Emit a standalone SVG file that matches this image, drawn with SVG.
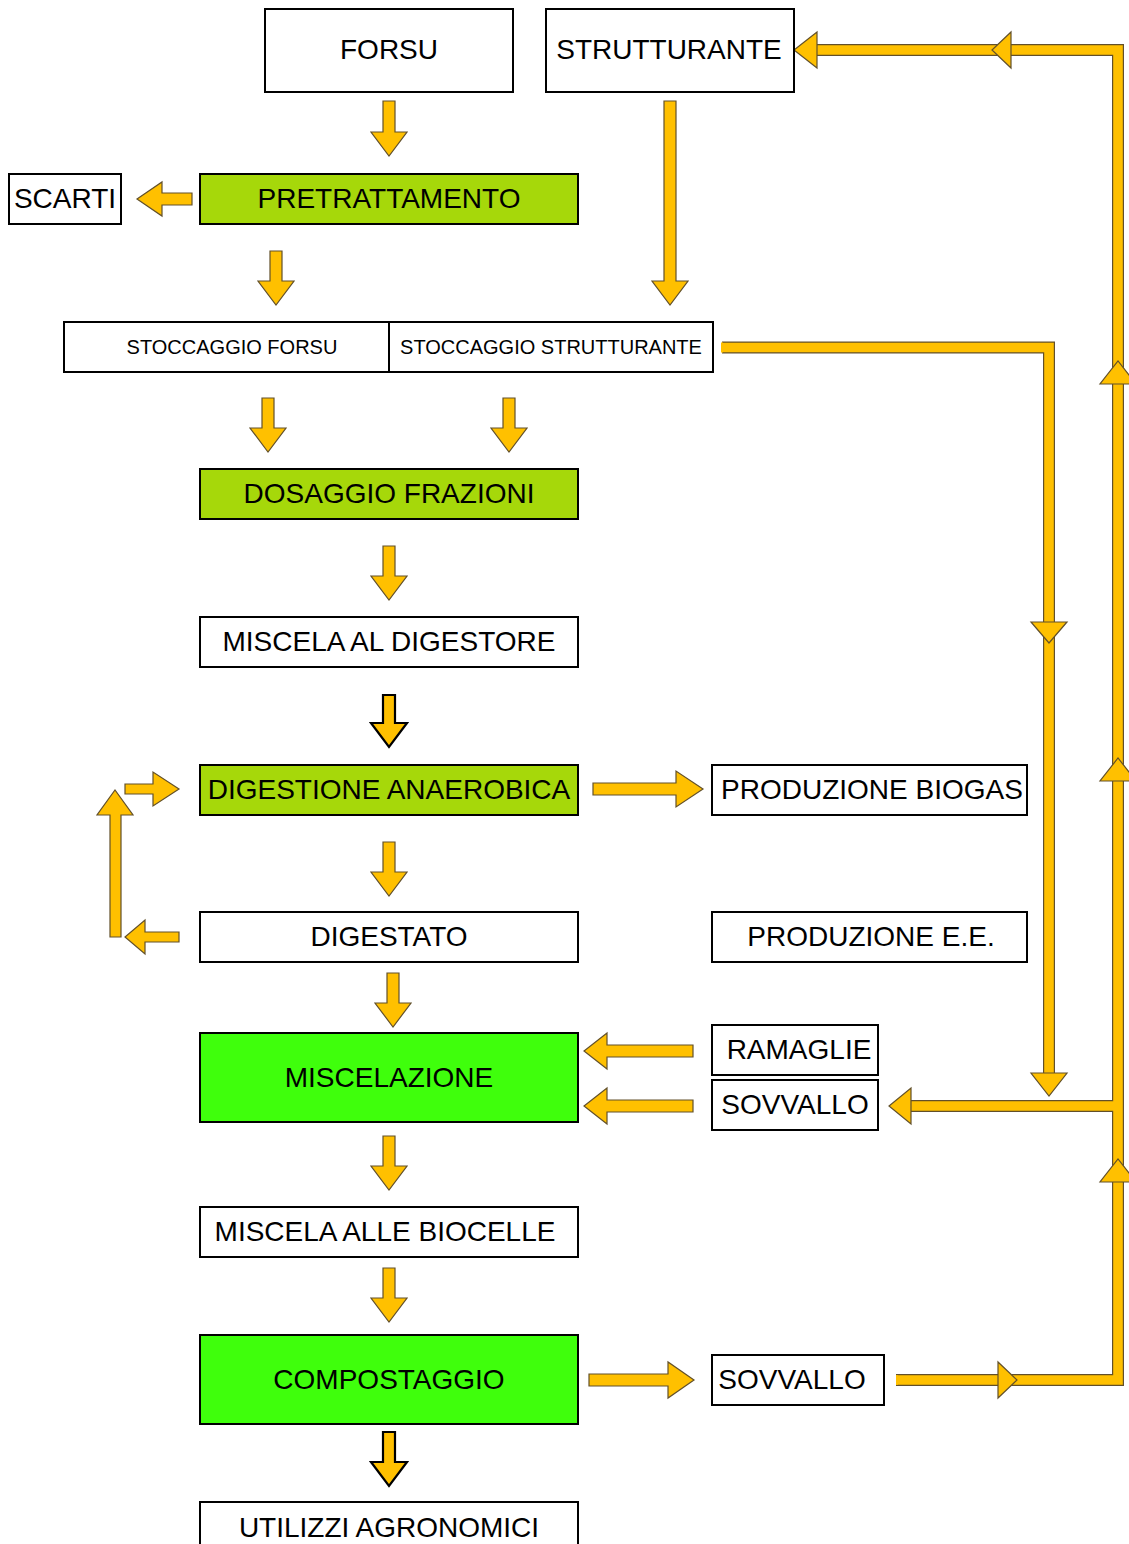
<svg xmlns="http://www.w3.org/2000/svg" width="1129" height="1544" viewBox="0 0 1129 1544">
<style>
.box{fill:#fff;stroke:#000;stroke-width:2}
.yg{fill:#A6D80A;stroke:#000;stroke-width:2}
.gr{fill:#3FFF0C;stroke:#000;stroke-width:2}
.t{font-family:"Liberation Sans",Arial,sans-serif;font-size:28px;fill:#000;text-anchor:middle}
.ts{font-family:"Liberation Sans",Arial,sans-serif;font-size:20px;fill:#000;text-anchor:middle}
.ar{fill:#FFC000;stroke:#62502A;stroke-width:1.2;stroke-linejoin:miter}
.arb{fill:#FFC000;stroke:#000;stroke-width:2.2;stroke-linejoin:miter}
.lo{fill:none;stroke:#62502A;stroke-width:12;stroke-linejoin:miter}
.li{fill:none;stroke:#FFC000;stroke-width:9.6;stroke-linejoin:miter}
</style>
<rect width="1129" height="1544" fill="#fff"/>

<g id="connectors">
  <!-- long lines on the right -->
  <path class="lo" d="M722,347.5 H1049 V1078"/>
  <path class="lo" d="M896,1380 H1118 V50 H812"/>
  <path class="lo" d="M908,1106 H1118"/>
  <path class="li" d="M722,347.5 H1049 V1078"/>
  <path class="li" d="M896,1380 H1118 V50 H812"/>
  <path class="li" d="M908,1106 H1118"/>
  <rect x="721" y="342.5" width="2" height="10" fill="#FFC000"/>
  <!-- heads on lines -->
  <polygon class="ar" points="1031,622 1067,622 1049,643"/>
  <polygon class="ar" points="1031,1073 1067,1073 1049,1096"/>
  <polygon class="ar" points="817,32 817,68 794,50"/>
  <polygon class="ar" points="1011,32 1011,68 992,50"/>
  <polygon class="ar" points="1100,384 1136,384 1118,361"/>
  <polygon class="ar" points="1100,781 1136,781 1118,758"/>
  <polygon class="ar" points="1100,1182 1136,1182 1118,1159"/>
  <polygon class="ar" points="998,1362 998,1398 1017,1380"/>
  <polygon class="ar" points="911,1088 911,1124 889,1106"/>
  <rect x="896" y="1375.2" width="2" height="9.6" fill="#FFC000"/>

  <!-- block down arrows -->
  <polygon class="ar" points="383,101 395,101 395,132 407,132 389,156 371,132 383,132"/>
  <polygon class="ar" points="664,101 676,101 676,281 688,281 670,305 652,281 664,281"/>
  <polygon class="ar" points="270,251 282,251 282,281 294,281 276,305 258,281 270,281"/>
  <polygon class="ar" points="262,398 274,398 274,428 286,428 268,452 250,428 262,428"/>
  <polygon class="ar" points="503,398 515,398 515,428 527,428 509,452 491,428 503,428"/>
  <polygon class="ar" points="383,546 395,546 395,576 407,576 389,600 371,576 383,576"/>
  <polygon class="arb" points="383,695 395,695 395,723 407,723 389,747 371,723 383,723"/>
  <polygon class="ar" points="383,842 395,842 395,872 407,872 389,896 371,872 383,872"/>
  <polygon class="ar" points="387,973 399,973 399,1003 411,1003 393,1027 375,1003 387,1003"/>
  <polygon class="ar" points="383,1136 395,1136 395,1166 407,1166 389,1190 371,1166 383,1166"/>
  <polygon class="ar" points="383,1268 395,1268 395,1298 407,1298 389,1322 371,1298 383,1298"/>
  <polygon class="arb" points="383,1432 395,1432 395,1462 407,1462 389,1486 371,1462 383,1462"/>

  <!-- left arrows -->
  <polygon class="ar" points="192,193 192,205 162,205 162,216 137,199 162,182 162,193"/>
  <polygon class="ar" points="179,932 179,942 145,942 145,954 125,937 145,920 145,932"/>
  <polygon class="ar" points="693,1045 693,1057 607,1057 607,1069 584,1051 607,1033 607,1045"/>
  <polygon class="ar" points="693,1100 693,1112 607,1112 607,1124 584,1106 607,1088 607,1100"/>

  <!-- right arrows -->
  <polygon class="ar" points="125,784 125,794 153,794 153,806 179,789 153,772 153,784"/>
  <polygon class="ar" points="593,783 593,795 676,795 676,807 703,789 676,771 676,783"/>
  <polygon class="ar" points="589,1374 589,1386 668,1386 668,1398 694,1380 668,1362 668,1374"/>

  <!-- up arrow of loop -->
  <polygon class="ar" points="110,937 121,937 121,815 133,815 115,790 97,815 110,815"/>
</g>

<g id="forsu"><rect class="box" x="265" y="9" width="248" height="83"/><text class="t" x="389" y="59">FORSU</text></g>
<g id="strutturante"><rect class="box" x="546" y="9" width="248" height="83"/><text class="t" x="669" y="59">STRUTTURANTE</text></g>
<g id="scarti"><rect class="box" x="9" y="174" width="112" height="50"/><text class="t" x="65" y="208">SCARTI</text></g>
<g id="pretrattamento"><rect class="yg" x="200" y="174" width="378" height="50"/><text class="t" x="389" y="208">PRETRATTAMENTO</text></g>
<g id="stoccaggio-forsu"><rect class="box" x="64" y="322" width="325" height="50"/><text class="ts" x="232" y="354">STOCCAGGIO FORSU</text></g>
<g id="stoccaggio-strutturante"><rect class="box" x="389" y="322" width="324" height="50"/><text class="ts" x="551" y="354">STOCCAGGIO STRUTTURANTE</text></g>
<g id="dosaggio"><rect class="yg" x="200" y="469" width="378" height="50"/><text class="t" x="389" y="503">DOSAGGIO FRAZIONI</text></g>
<g id="miscela-digestore"><rect class="box" x="200" y="617" width="378" height="50"/><text class="t" x="389" y="651">MISCELA AL DIGESTORE</text></g>
<g id="digestione"><rect class="yg" x="200" y="765" width="378" height="50"/><text class="t" x="389" y="799">DIGESTIONE ANAEROBICA</text></g>
<g id="biogas"><rect class="box" x="712" y="765" width="315" height="50"/><text class="t" x="872" y="799">PRODUZIONE BIOGAS</text></g>
<g id="digestato"><rect class="box" x="200" y="912" width="378" height="50"/><text class="t" x="389" y="946">DIGESTATO</text></g>
<g id="produzione-ee"><rect class="box" x="712" y="912" width="315" height="50"/><text class="t" x="871" y="946">PRODUZIONE E.E.</text></g>
<g id="miscelazione"><rect class="gr" x="200" y="1033" width="378" height="89"/><text class="t" x="389" y="1087">MISCELAZIONE</text></g>
<g id="ramaglie"><rect class="box" x="712" y="1025" width="166" height="50"/><text class="t" x="799" y="1059">RAMAGLIE</text></g>
<g id="sovvallo-1"><rect class="box" x="712" y="1080" width="166" height="50"/><text class="t" x="795" y="1114">SOVVALLO</text></g>
<g id="miscela-biocelle"><rect class="box" x="200" y="1207" width="378" height="50"/><text class="t" x="385" y="1241">MISCELA ALLE BIOCELLE</text></g>
<g id="compostaggio"><rect class="gr" x="200" y="1335" width="378" height="89"/><text class="t" x="389" y="1389">COMPOSTAGGIO</text></g>
<g id="sovvallo-2"><rect class="box" x="712" y="1355" width="172" height="50"/><text class="t" x="792" y="1389">SOVVALLO</text></g>
<g id="utilizzi"><rect class="box" x="200" y="1502" width="378" height="60"/><text class="t" x="389" y="1537">UTILIZZI AGRONOMICI</text></g>
</svg>
